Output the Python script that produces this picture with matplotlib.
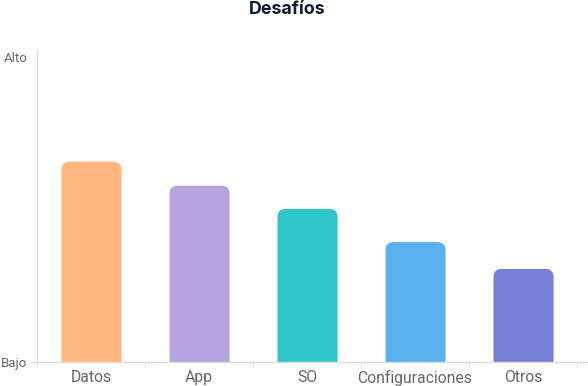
import numpy as np
import matplotlib.pyplot as plt
from matplotlib.patches import FancyBboxPatch

plt.rcParams['font.family'] = ['Roboto', 'DejaVu Sans']

categorias = ['Datos', 'App', 'SO', 'Configuraciones', 'Otros']
valores = [65.7, 57.8, 50.2, 39.3, 30.5]
colores = ['#FFB77F', '#B7A3DF', '#2EC6C8', '#59B1EF', '#757DD4']

W, H = 588, 386
fig = plt.figure(figsize=(W / 100, H / 100), dpi=100)
ax = fig.add_axes([37 / W, 24 / H, 551 / W, 312 / H])

ax.set_xlim(-0.5, -0.5 + 551 / 108)
ax.set_ylim(0, 100 * 312 / 305)

ancho = 0.556
# rounded top corners: radius about 8 px
rx = 8 / 108
ry = 8 * 100 / 305
for i, (v, c) in enumerate(zip(valores, colores)):
    p = FancyBboxPatch((i - ancho / 2 + 0.005, -10), ancho, v + 10,
                       boxstyle=f"round,pad=0,rounding_size={rx}",
                       mutation_aspect=ry / rx,
                       facecolor=c, edgecolor='none', zorder=2)
    ax.add_patch(p)

for s in ['top', 'right']:
    ax.spines[s].set_visible(False)
for s in ['left', 'bottom']:
    ax.spines[s].set_color('#dddddd')
    ax.spines[s].set_linewidth(1)

ax.set_xticks(np.arange(len(categorias)))
ax.set_xticklabels(categorias)
ax.set_xticks(np.arange(len(categorias) + 1) - 0.5, minor=True)
ax.tick_params(axis='x', which='major', length=0, pad=6, labelsize=11.3, labelcolor='#666666')
ax.tick_params(axis='x', which='minor', length=4, color='#dddddd')

ax.set_yticks([0])
ax.set_yticklabels(['Bajo'])
ax.set_yticks([100], minor=True)
ax.set_yticklabels(['Alto'], minor=True)
ax.tick_params(axis='y', which='major', length=5, color='#dddddd', pad=2, labelsize=9.5, labelcolor='#666666')
ax.tick_params(axis='y', which='minor', length=0, pad=7, labelsize=9.5, labelcolor='#666666')

fig.text(287 / W, 1 - 9 / H, 'Desafíos', ha='center', va='center',
         fontsize=12.8, fontweight='bold', color='#141a33',
         family=['Inter', 'DejaVu Sans'])

fig.savefig('out.png', dpi=100)
